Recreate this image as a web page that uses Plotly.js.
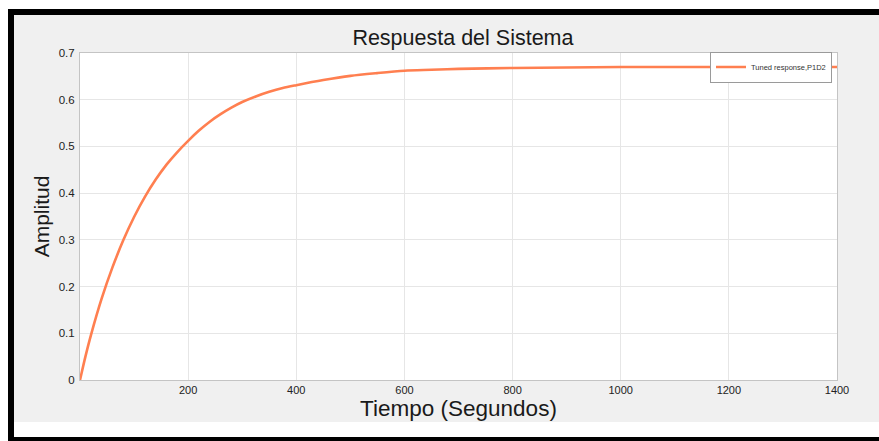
<!DOCTYPE html>
<html>
<head>
<meta charset="utf-8">
<script src="https://cdn.plot.ly/plotly-3.0.1.min.js"></script>
<style>
html,body{margin:0;padding:0;background:#fff;width:879px;height:441px;overflow:hidden;}
#frame{position:absolute;left:8px;top:9px;width:871px;height:432px;background:#000;}
#inner{position:absolute;left:14px;top:15px;width:865px;height:422px;background:#fff;}
#chart{position:absolute;left:14px;top:15px;width:865px;height:407px;}
</style>
</head>
<body>
<div id="frame"></div>
<div id="inner"></div>
<div id="chart"></div>
<script>
// Data
const timeSeconds = [0, 10, 20, 40, 60, 80, 100, 120, 140, 160, 180, 200, 220, 240, 260, 280, 300, 325, 350, 375, 400, 450, 500, 550, 600, 650, 700, 800, 900, 1000, 1100, 1200, 1300, 1400];
const amplitude   = [0, 0.050, 0.095, 0.174, 0.241, 0.299, 0.349, 0.392, 0.429, 0.461, 0.488, 0.512, 0.534, 0.553, 0.569, 0.583, 0.595, 0.607, 0.617, 0.625, 0.631, 0.642, 0.651, 0.657, 0.662, 0.664, 0.666, 0.668, 0.669, 0.670, 0.670, 0.670, 0.670, 0.670];
const seriesName = 'Tuned response,P1D2';
const xTickVals = [200, 400, 600, 800, 1000, 1200, 1400];
const yTickVals = [0, 0.1, 0.2, 0.3, 0.4, 0.5, 0.6, 0.7];
const yTickText = ['0', '0.1', '0.2', '0.3', '0.4', '0.5', '0.6', '0.7'];

const trace = {
  x: timeSeconds,
  y: amplitude,
  type: 'scatter',
  mode: 'lines',
  name: seriesName,
  line: {color: '#ff7f50', width: 2.6, shape: 'spline', smoothing: 0.8},
  cliponaxis: false
};

const layout = {
  width: 865,
  height: 407,
  margin: {l: 66, r: 42, t: 38, b: 42, pad: 0},
  paper_bgcolor: '#f0f0f0',
  plot_bgcolor: '#ffffff',
  font: {family: 'Liberation Sans, Arial, sans-serif', color: '#222'},
  title: {
    text: 'Respuesta del Sistema',
    font: {family: 'Liberation Sans, Arial, sans-serif', size: 21.5, color: '#1a1a1a'},
    x: 0.519, xanchor: 'center', y: 0.945, yanchor: 'middle', yref: 'container'
  },
  showlegend: true,
  legend: {
    x: 0.9934, xanchor: 'right', y: 0.957, yanchor: 'middle',
    bgcolor: '#ffffff', bordercolor: '#9a9a9a', borderwidth: 1,
    font: {size: 7.5, color: '#333'},
    itemwidth: 30
  },
  xaxis: {
    range: [0, 1400],
    tickvals: xTickVals,
    ticks: '',
    ticklabelstandoff: 0,
    tickfont: {size: 11, color: '#222'},
    showgrid: true, gridcolor: '#e6e6e6', gridwidth: 1,
    showline: true, linecolor: '#c4c4c4', linewidth: 1, mirror: true,
    zeroline: false,
    title: {text: 'Tiempo (Segundos)', font: {size: 22.5, color: '#1a1a1a'}, standoff: 4}
  },
  yaxis: {
    range: [0, 0.7],
    tickvals: yTickVals,
    ticktext: yTickText,
    ticks: '',
    ticklabelstandoff: 2,
    tickfont: {size: 11.5, color: '#222'},
    showgrid: true, gridcolor: '#e6e6e6', gridwidth: 1,
    showline: true, linecolor: '#c4c4c4', linewidth: 1, mirror: true,
    zeroline: false,
    title: {text: 'Amplitud', font: {size: 21, color: '#1a1a1a'}, standoff: 3}
  }
};

Plotly.newPlot('chart', [trace], layout, {displayModeBar: false, staticPlot: true});
</script>
</body>
</html>
